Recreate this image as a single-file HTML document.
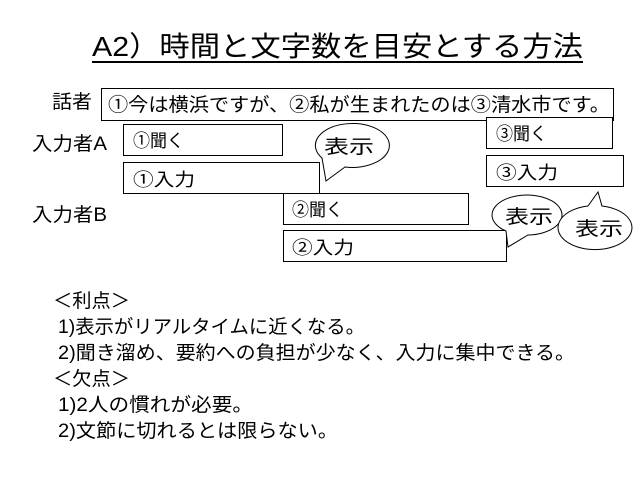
<!DOCTYPE html>
<html><head><meta charset="utf-8"><style>
html,body{margin:0;padding:0;background:#fff;}
svg{display:block}
text{font-family:"Liberation Sans","Noto Sans CJK JP",sans-serif;fill:#000;}
</style></head><body>
<svg width="640" height="480" viewBox="0 0 640 480" xmlns="http://www.w3.org/2000/svg">
<rect width="640" height="480" fill="#fff"/>
<text x="92" y="56" font-size="28" textLength="491" lengthAdjust="spacingAndGlyphs">A2）時間と文字数を目安とする方法</text>
<line x1="92" y1="62" x2="583" y2="62" stroke="#000" stroke-width="2"/>

<text x="52" y="108" font-size="19" textLength="40" lengthAdjust="spacingAndGlyphs">話者</text>
<rect x="101.5" y="88.5" width="512" height="32" fill="#fff" stroke="#000"/>
<text x="108" y="111" font-size="19" textLength="502" lengthAdjust="spacingAndGlyphs">①今は横浜ですが、②私が生まれたのは③清水市です。</text>

<text x="32" y="150" font-size="19" textLength="75" lengthAdjust="spacingAndGlyphs">入力者A</text>
<text x="32" y="221" font-size="19" textLength="75" lengthAdjust="spacingAndGlyphs">入力者B</text>

<rect x="123.5" y="124.5" width="159" height="31" fill="#fff" stroke="#000"/>
<text x="133" y="147" font-size="18" textLength="51" lengthAdjust="spacingAndGlyphs">①聞く</text>
<rect x="123.5" y="162.5" width="196" height="31" fill="#fff" stroke="#000"/>
<text x="133" y="186" font-size="18" textLength="62" lengthAdjust="spacingAndGlyphs">①入力</text>

<rect x="486.5" y="117.5" width="126" height="31" fill="#fff" stroke="#000"/>
<text x="496" y="140" font-size="18" textLength="51" lengthAdjust="spacingAndGlyphs">③聞く</text>
<rect x="486.5" y="155.5" width="137" height="31" fill="#fff" stroke="#000"/>
<text x="496" y="179" font-size="18" textLength="62" lengthAdjust="spacingAndGlyphs">③入力</text>

<rect x="283.5" y="193.5" width="185" height="31" fill="#fff" stroke="#000"/>
<text x="292" y="216" font-size="18" textLength="51" lengthAdjust="spacingAndGlyphs">②聞く</text>
<rect x="283.5" y="230.5" width="223" height="31" fill="#fff" stroke="#000"/>
<text x="292" y="254" font-size="18" textLength="62" lengthAdjust="spacingAndGlyphs">②入力</text>

<path d="M 322 158 A 37 22 0 1 1 345 167 L 326 181 Z" fill="#fff" stroke="#000"/>
<text x="324" y="153" font-size="19" textLength="50" lengthAdjust="spacingAndGlyphs">表示</text>
<path d="M 506 231 A 35 20 0 1 1 528 235 L 508 247 Z" fill="#fff" stroke="#000"/>
<text x="505" y="223" font-size="19" textLength="48" lengthAdjust="spacingAndGlyphs">表示</text>
<path d="M 588 206 L 598 192 L 602 206 A 37 22 0 1 1 588 206 Z" fill="#fff" stroke="#000"/>
<text x="575" y="235" font-size="19" textLength="48" lengthAdjust="spacingAndGlyphs">表示</text>

<g font-size="19">
<text x="53" y="307" textLength="77" lengthAdjust="spacingAndGlyphs">＜利点＞</text>
<text x="58" y="333" textLength="307" lengthAdjust="spacingAndGlyphs">1)表示がリアルタイムに近くなる。</text>
<text x="58" y="359" textLength="517" lengthAdjust="spacingAndGlyphs">2)聞き溜め、要約への負担が少なく、入力に集中できる。</text>
<text x="53" y="385" textLength="77" lengthAdjust="spacingAndGlyphs">＜欠点＞</text>
<text x="58" y="411" textLength="195" lengthAdjust="spacingAndGlyphs">1)2人の慣れが必要。</text>
<text x="58" y="437" textLength="280" lengthAdjust="spacingAndGlyphs">2)文節に切れるとは限らない。</text>
</g>
</svg>
</body></html>
